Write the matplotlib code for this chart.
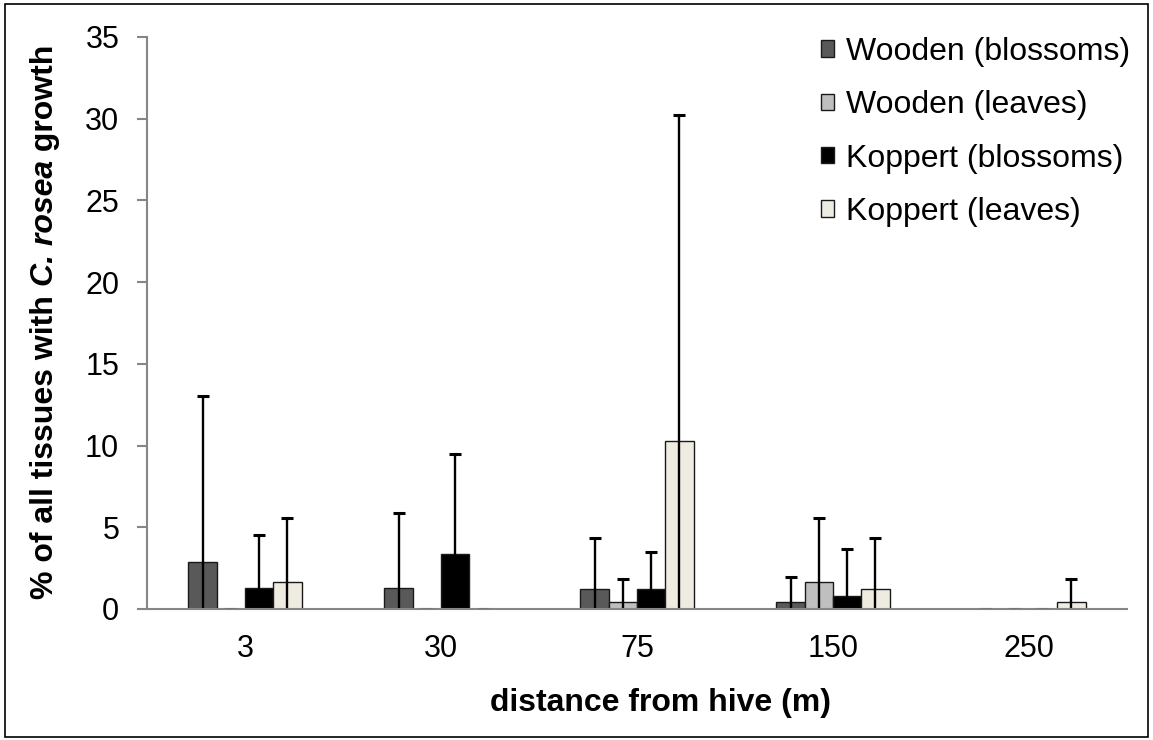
import matplotlib
matplotlib.use("Agg")
import matplotlib.pyplot as plt
import numpy as np
from matplotlib.patches import Rectangle

categories = ["3", "30", "75", "150", "250"]
series_names = ["Wooden (blossoms)", "Wooden (leaves)", "Koppert (blossoms)", "Koppert (leaves)"]
wooden_blossoms = [2.9, 1.3, 1.22, 0.41, 0.0]
wooden_leaves = [0.0, 0.0, 0.41, 1.67, 0.0]
koppert_blossoms = [1.3, 3.35, 1.22, 0.81, 0.0]
koppert_leaves = [1.67, 0.0, 10.26, 1.22, 0.41]
err_wooden_blossoms = [10.15, 4.56, 3.11, 1.53, 0.0]
err_wooden_leaves = [0.0, 0.0, 1.43, 3.88, 0.0]
err_koppert_blossoms = [3.23, 6.14, 2.27, 2.88, 0.0]
err_koppert_leaves = [3.88, 0.0, 19.97, 3.11, 1.43]
colors = ["#595959", "#BFBFBF", "#000000", "#EEECE1"]
ylabel_parts = [("% of all tissues with ", "normal"), ("C. rosea", "italic"), (" growth", "normal")]

plt.rcParams['font.family'] = ['Liberation Sans', 'DejaVu Sans']

fig = plt.figure(figsize=(11.53, 7.40), dpi=100)
ax = fig.add_axes([147/1153, 1-609/740, 980/1153, 572/740])

values = [wooden_blossoms, wooden_leaves, koppert_blossoms, koppert_leaves]
errors = [err_wooden_blossoms, err_wooden_leaves, err_koppert_blossoms, err_koppert_leaves]
x = np.arange(len(categories))
w = 0.1445
for i, (vals, errs, c, name) in enumerate(zip(values, errors, colors, series_names)):
    pos = x + (i - 1.5) * w
    vals = np.array(vals)
    errs = np.array(errs)
    ax.bar(pos, vals, width=w, color=c, edgecolor="#1a1a1a", linewidth=1.0, label=name, zorder=2)
    zero = vals == 0
    if zero.any():
        ax.hlines(np.zeros(zero.sum()) + 0.03, pos[zero] - w * 0.2, pos[zero] + w * 0.2,
                  color="#777777", linewidth=1.5, zorder=5)
    mask = errs > 0
    tops = vals[mask] + errs[mask]
    ax.vlines(pos[mask], 0, tops, color='black', linewidth=1.7, zorder=3)
    ax.plot(pos[mask], tops, linestyle='none', marker='_', markersize=9, markeredgewidth=2.2,
            color='black', zorder=3)

ax.set_xlim(-0.5, 4.5)
ax.set_ylim(0, 35)
ax.set_yticks(np.arange(0, 36, 5))
ax.set_xticks(x)
ax.set_xticklabels(categories)
for s in ["top", "right"]:
    ax.spines[s].set_visible(False)
for s in ["left", "bottom"]:
    ax.spines[s].set_color("#868686")
    ax.spines[s].set_linewidth(1.5)
ax.spines["bottom"].set_zorder(4)
ax.tick_params(axis='y', length=7, width=1.5, color="#868686", labelsize=22, pad=13)
ax.tick_params(axis='x', length=0, labelsize=22, pad=18)

ax.set_xlabel("distance from hive (m)", fontsize=23, fontweight='bold')
ax.xaxis.set_label_coords((661 - 147) / 980, (609 - 688) / 572)

# y label composed of pieces (bold, bold italic, bold), stacked vertically
renderer = fig.canvas.get_renderer()
texts = []
heights = []
for s, style in ylabel_parts:
    t = fig.text(0, 0, s, rotation=90, fontsize=23, fontweight='bold', fontstyle=style,
                 ha='center', va='bottom', transform=None)
    bb = t.get_window_extent(renderer)
    texts.append(t)
    heights.append(bb.height)
total = sum(heights)
xc = 45
yc = 740 - 322
ystart = yc - total / 2
for t, h in zip(texts, heights):
    t.set_position((xc, ystart))
    ystart += h

leg = ax.legend(loc='upper right', bbox_to_anchor=(1.0163, 1.0225), frameon=False, fontsize=23,
                handlelength=0.42, handleheight=0.42, handletextpad=0.38, labelspacing=0.73,
                borderaxespad=0.0)

fig.patches.append(Rectangle((5/1153, 3/740), 1143/1153, 733/740, transform=fig.transFigure,
                             fill=False, edgecolor='black', linewidth=1.2))

fig.savefig("out.png", dpi=100)
